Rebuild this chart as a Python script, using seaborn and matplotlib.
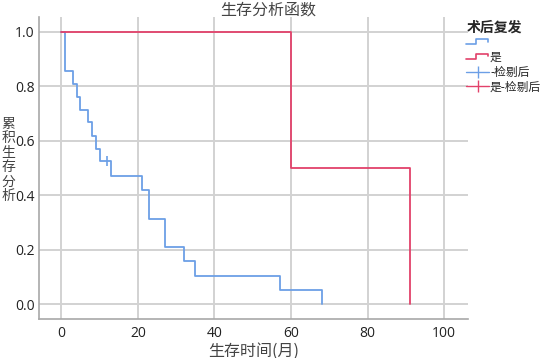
import matplotlib
matplotlib.use("Agg")
import matplotlib.pyplot as plt
import seaborn as sns
import pandas as pd
from matplotlib.lines import Line2D
from matplotlib.legend_handler import HandlerLine2D

# ---- data ----
blue_times = [0, 1, 3, 4, 5, 7, 8, 9, 10, 13, 21, 23, 27, 32, 35, 57, 68]
blue_surv = [1.0, 0.857, 0.810, 0.762, 0.714, 0.667, 0.619, 0.571, 0.524,
             0.471, 0.419, 0.314, 0.209, 0.157, 0.105, 0.052, 0.0]
blue_cens_t = [12]
blue_cens_s = [0.524]
red_times = [0, 60, 91]
red_surv = [1.0, 0.5, 0.0]

group_labels = ["", "是"]
legend_title = "术后复发"
title = "生存分析函数"
xlabel = "生存时间(月)"
ylabel = "累积生存分析"
xticks = [0, 20, 40, 60, 80, 100]
yticks = [0.0, 0.2, 0.4, 0.6, 0.8, 1.0]

BLUE = "#6c9fe6"
RED = "#e2416a"

sns.set_style("white")
plt.rcParams['font.family'] = ['Noto Sans CJK SC', 'DejaVu Sans']

fig = plt.figure(figsize=(5.43, 3.58), dpi=100)
ax = fig.add_axes([39/543, 1-319/358, (468-39)/543, (319-17)/358])

df_b = pd.DataFrame({"t": blue_times, "s": blue_surv})
df_r = pd.DataFrame({"t": red_times, "s": red_surv})
sns.lineplot(data=df_b, x="t", y="s", ax=ax, color=BLUE, lw=1.3,
             drawstyle="steps-post", estimator=None, sort=False, zorder=3)
sns.lineplot(data=df_r, x="t", y="s", ax=ax, color=RED, lw=1.3,
             drawstyle="steps-post", estimator=None, sort=False, zorder=3)
sns.scatterplot(x=blue_cens_t, y=blue_cens_s, ax=ax, marker="|", s=50,
                color=BLUE, linewidth=1.2, zorder=4)

ax.set_xlim(-5.8, 106.2)
ax.set_ylim(-0.054, 1.054)
ax.set_xticks(xticks)
ax.set_yticks(yticks)
ax.set_yticklabels([f"{v:.1f}" for v in yticks])
ax.grid(True, color="#d2d2d2", lw=1.4)
ax.set_axisbelow(True)
for s in ["top", "right"]:
    ax.spines[s].set_visible(False)
for s in ["left", "bottom"]:
    ax.spines[s].set_color("#a8a8a8")
    ax.spines[s].set_linewidth(1.2)
ax.tick_params(length=0, labelsize=10, colors="#222222")
ax.tick_params(axis="y", pad=3)
ax.tick_params(axis="x", pad=5)
for lab in ax.get_xticklabels() + ax.get_yticklabels():
    lab.set_family(["Open Sans", "DejaVu Sans"])
ax.set_xlabel(xlabel, fontsize=11.5, color="#444444", labelpad=1)
ax.set_ylabel("")
fig.text(8/543, 1-160/358, "\n".join(ylabel), fontsize=10, color="#444444",
         ha="center", va="center", linespacing=1.05)
fig.text(268/543, 1-10/358, title, fontsize=11.5, color="#444444",
         ha="center", va="center")


class StepHandler(HandlerLine2D):
    def create_artists(self, legend, orig_handle, xdescent, ydescent,
                       width, height, fontsize, trans):
        x0 = -xdescent
        y0 = -ydescent
        xs = [x0, x0 + width*0.45, x0 + width*0.45, x0 + width*0.95, x0 + width*0.95]
        ys = [y0 + height*0.2, y0 + height*0.2, y0 + height*0.85,
              y0 + height*0.85, y0 + height*0.55]
        ln = Line2D(xs, ys, color=orig_handle.get_color(), lw=1.2)
        ln.set_transform(trans)
        return [ln]


h1 = Line2D([], [], color=BLUE)
h2 = Line2D([], [], color=RED)
h3 = Line2D([0], [0], color=BLUE, marker="|", markersize=9, lw=1.0, mew=1.0)
h4 = Line2D([0], [0], color=RED, marker="|", markersize=9, lw=1.0, mew=1.0)
leg = fig.legend([h1, h2, h3, h4],
                 [group_labels[0], group_labels[1],
                  group_labels[0] + "-检剔后", group_labels[1] + "-检剔后"],
                 handler_map={h1: StepHandler(), h2: StepHandler()},
                 title=legend_title, loc="upper left",
                 bbox_to_anchor=(464/543, 1-18/358), frameon=False,
                 fontsize=8.5, handlelength=1.9, handletextpad=0.1,
                 labelspacing=0.15, borderaxespad=0, borderpad=0.2)
leg.get_title().set_fontsize(10)
leg.get_title().set_fontweight("bold")
leg._legend_box.align = "left"

fig.savefig("out.png", dpi=100)
